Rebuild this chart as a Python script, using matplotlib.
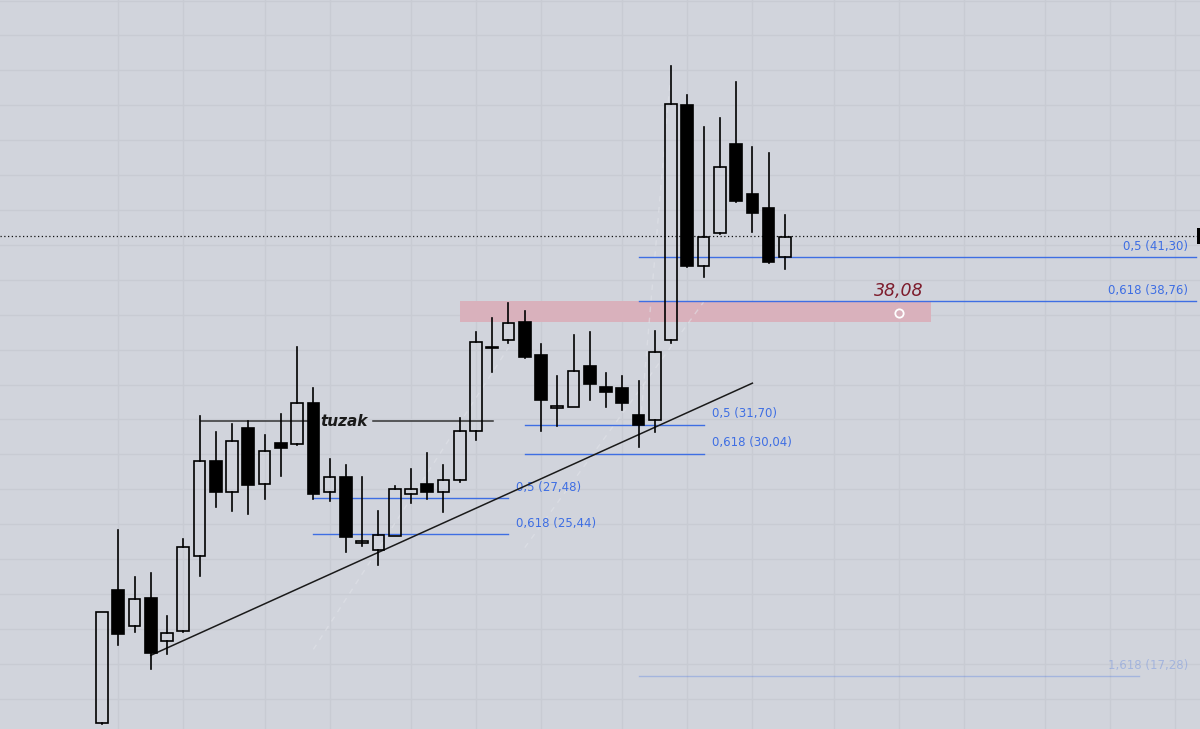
import numpy as np
import matplotlib.pyplot as plt
from matplotlib.patches import Rectangle

# daily candles
opens = [14.60, 22.22, 20.17, 21.78, 19.30, 19.87, 24.18, 29.65, 27.85, 31.54,
         28.33, 30.66, 30.58, 32.92, 27.85, 28.71, 24.95, 24.55, 25.33, 27.76,
         28.29, 27.85, 28.52, 31.33, 36.10, 36.54, 37.56, 35.72, 32.63, 32.72,
         35.05, 33.87, 33.83, 32.25, 31.96, 36.58, 50.01, 40.80, 42.66, 47.76,
         44.91, 44.09, 41.28]
highs = [21.00, 25.66, 22.95, 23.23, 20.73, 25.18, 32.19, 31.29, 31.77, 31.92,
         31.14, 32.30, 36.16, 33.83, 29.71, 29.42, 28.68, 26.76, 28.19, 29.19,
         30.09, 29.42, 32.06, 36.99, 37.79, 38.70, 38.21, 36.32, 34.48, 36.83,
         36.99, 34.64, 34.48, 34.21, 37.08, 52.25, 50.58, 48.77, 49.25, 51.35,
         47.59, 47.24, 43.71]
lows = [14.55, 19.07, 19.83, 17.73, 18.59, 19.80, 23.04, 26.99, 26.75, 26.61,
        27.47, 28.77, 30.53, 27.47, 27.34, 24.41, 24.74, 23.65, 25.30, 27.22,
        27.47, 26.71, 28.42, 30.85, 34.73, 36.39, 35.55, 31.33, 31.62, 32.70,
        33.11, 32.72, 32.57, 30.43, 31.29, 36.36, 40.75, 40.17, 42.60, 44.47,
        42.75, 40.98, 40.60]
closes = [20.97, 19.74, 21.69, 18.62, 19.79, 24.70, 29.65, 27.85, 30.76, 28.27,
          30.18, 30.34, 32.97, 27.76, 28.71, 25.24, 25.00, 25.37, 27.99, 27.99,
          27.85, 28.56, 31.33, 36.45, 36.16, 37.50, 35.59, 33.11, 32.76, 34.77,
          34.06, 33.55, 32.92, 31.66, 35.87, 50.07, 40.79, 42.43, 46.48, 44.53,
          43.81, 41.00, 42.46]

# fibonacci retracements: x span, levels, diagonal anchors
fib_small = dict(x=(13, 25), levels=[("0,5", 27.48), ("0,618", 25.44)],
                 diag=((13, 18.83), (25, 36.12)))
fib_mid = dict(x=(26, 37), levels=[("0,5", 31.70), ("0,618", 30.04)],
               diag=((26, 24.66), (37, 38.73)))
fib_big = dict(x=(33, 67.3), levels=[("0,5", 41.30), ("0,618", 38.76)],
               diag=((33, 30.54), (35, 52.06)))
fib_ext = ("1,618", 17.28)

trend = ((3, 18.49), (40, 34.08))
tuzak_price = 31.90
zone = (22, 51, 37.56, 38.76)
mark = (49, 38.08)
last_price = 42.50

grid_x = [1, 5, 10, 14, 19, 23, 27, 32, 36, 40, 45, 49, 53, 58, 62, 66]
grid_y = np.arange(14, 58, 2)

BG = '#d1d4dc'
GRID = '#c8cbd3'
BLUE = '#3e6ee3'

fig = plt.figure(figsize=(12, 7.29), dpi=100)
fig.patch.set_facecolor(BG)
ax = fig.add_axes([0, 0, 1, 1])
ax.set_facecolor(BG)
ax.set_xlim(-6.273, 67.53)
ax.set_ylim(14.27, 56.03)
ax.axis('off')

for g in grid_x:
    ax.axvline(g, color=GRID, lw=1, zorder=0)
for g in grid_y:
    ax.axhline(g, color=GRID, lw=1, zorder=0)

# supply zone
ax.add_patch(Rectangle((zone[0], zone[2]), zone[1] - zone[0], zone[3] - zone[2],
                       facecolor='#d9b1bc', edgecolor='none', zorder=1))

# fib diagonals (faint)
for f in (fib_small, fib_mid, fib_big):
    (x0, y0), (x1, y1) = f['diag']
    ax.plot([x0, x1], [y0, y1], color='#e2e4ea', lw=1, ls=(0, (4, 4)), alpha=0.55, zorder=1)

# fib levels
for f, side in ((fib_small, 'left'), (fib_mid, 'left'), (fib_big, 'right')):
    x0, x1 = f['x']
    for lab, price in f['levels']:
        ax.plot([x0, x1], [price, price], color=BLUE, lw=1, zorder=2)
        txt = "%s (%s)" % (lab, ("%.2f" % price).replace('.', ','))
        if side == 'left':
            ax.annotate(txt, (x1, price), xytext=(8, 11), textcoords='offset pixels',
                        color=BLUE, fontsize=8.5, ha='left', va='center')
        else:
            ax.annotate(txt, (66.82, price), xytext=(0, 11), textcoords='offset pixels',
                        color=BLUE, fontsize=8.5, ha='right', va='center')
lab, price = fib_ext
ax.plot([fib_big['x'][0], 63.8], [price, price], color=BLUE, lw=1, alpha=0.3, zorder=2)
ax.annotate("%s (%s)" % (lab, ("%.2f" % price).replace('.', ',')), (66.82, price),
            xytext=(0, 11), textcoords='offset pixels', color=BLUE, alpha=0.3,
            fontsize=8.5, ha='right', va='center')

# trendline
ax.plot([trend[0][0], trend[1][0]], [trend[0][1], trend[1][1]], color='#1a1a1a', lw=1.1, zorder=3)

# tuzak level
ax.plot([6.09, 12.79], [tuzak_price, tuzak_price], color='#333333', lw=1.1, zorder=3)
ax.plot([16.67, 24.05], [tuzak_price, tuzak_price], color='#333333', lw=1.1, zorder=3)
ax.text(14.9, tuzak_price, "tuzak", fontsize=11, fontweight='bold', style='italic',
        color='#1a1a1a', ha='center', va='center', zorder=4)

# last price
ax.plot([-6.273, 67.35], [last_price, last_price], color='#111111', lw=0.9,
        ls=(0, (1, 2)), zorder=3)
ax.add_patch(Rectangle((0.9975, (729 - 244) / 729), 0.01, 16 / 729, transform=ax.transAxes,
                       facecolor='black', edgecolor='none', clip_on=False, zorder=6))

# candles
w = 0.72
for i, (o, h, l, c) in enumerate(zip(opens, highs, lows, closes)):
    lo, hi = min(o, c), max(o, c)
    ax.plot([i, i], [hi, h], color='black', lw=1.2, zorder=4)
    ax.plot([i, i], [l, lo], color='black', lw=1.2, zorder=4)
    up = c >= o
    ax.add_patch(Rectangle((i - w / 2, lo), w, max(hi - lo, 0.08),
                           facecolor='none' if up else 'black', edgecolor='black',
                           lw=1.2, zorder=5))

# 38,08 mark
ax.plot(mark[0], mark[1], 'o', ms=6, mfc='none', mec='white', mew=1.3, zorder=6)
ax.annotate(("%.2f" % mark[1]).replace('.', ','), (mark[0], zone[3]), xytext=(0, 1),
            textcoords='offset pixels', color='#7d1c2c', fontsize=12.5, style='italic',
            ha='center', va='bottom', zorder=6)

fig.savefig('out.png', dpi=100, facecolor=BG)
